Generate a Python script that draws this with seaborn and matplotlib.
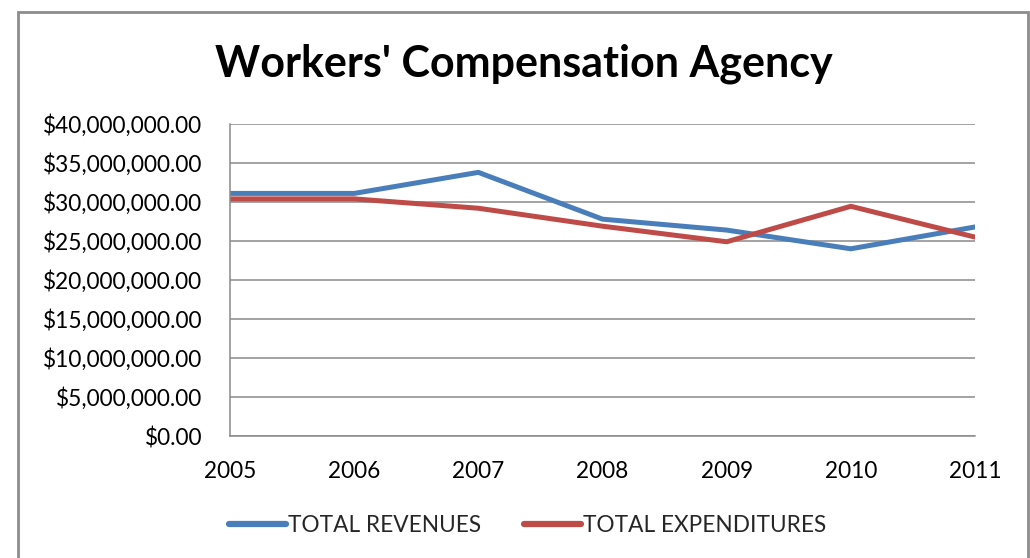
import matplotlib
matplotlib.use("Agg")
import matplotlib.pyplot as plt
import seaborn as sns
import pandas as pd
from matplotlib.ticker import FuncFormatter, MultipleLocator
from matplotlib.patches import Rectangle

years = [2005, 2006, 2007, 2008, 2009, 2010, 2011]
total_revenues = [31.1e6, 31.1e6, 33.8e6, 27.8e6, 26.4e6, 24.0e6, 26.8e6]
total_expenditures = [30.4e6, 30.4e6, 29.2e6, 26.9e6, 24.9e6, 29.45e6, 25.5e6]
series_names = ["TOTAL REVENUES", "TOTAL EXPENDITURES"]
colors = ["#4A7EBB", "#BE4B48"]

df = pd.DataFrame({
    "year": years * 2,
    "value": total_revenues + total_expenditures,
    "series": [series_names[0]] * len(years) + [series_names[1]] * len(years),
})

sns.set_theme(style="white")
plt.rcParams["font.family"] = ["Lato", "DejaVu Sans"]

fig = plt.figure(figsize=(10.3, 5.58), dpi=100)
ax = fig.add_axes([230 / 1030, 1 - 436 / 558, (975 - 230) / 1030, (436 - 124) / 558])

sns.lineplot(data=df, x="year", y="value", hue="series", palette=colors,
             linewidth=3.6, ax=ax, legend=False)

ax.set_xlim(2005, 2011)
ax.set_ylim(0, 40e6)
ax.yaxis.set_major_locator(MultipleLocator(5e6))
ax.set_xticks(years)
ax.yaxis.set_major_formatter(FuncFormatter(lambda v, p: "${:,.2f}".format(v)))
ax.set_xlabel("")
ax.set_ylabel("")

grid_c = "#8A8A8A"
ax.grid(axis="y", color=grid_c, linewidth=1.1)
ax.grid(axis="x", visible=False)
ax.set_axisbelow(True)
for s in ["top", "right"]:
    ax.spines[s].set_visible(False)
for s in ["left", "bottom"]:
    ax.spines[s].set_color(grid_c)
    ax.spines[s].set_linewidth(1.1)
ax.tick_params(axis="both", direction="out", length=6, width=1.1, color=grid_c,
               labelsize=16.3, labelcolor="black")
ax.tick_params(axis="y", pad=14)
ax.tick_params(axis="x", pad=12)

fig.text((210 + 838) / 2 / 1030, 1 - 64 / 558, "Workers' Compensation Agency",
         ha="center", va="center", fontsize=31, fontweight="bold", color="black")

handles = [plt.Line2D([], [], color=c, linewidth=4.5, solid_capstyle="round") for c in colors]
fig.legend(handles, series_names, loc="center", bbox_to_anchor=(528 / 1030, 1 - 525 / 558),
           ncol=2, frameon=False, fontsize=16.3, handlelength=2.5, handletextpad=0.1,
           columnspacing=1.9)

fig.patches.append(Rectangle((18 / 1030, -0.1), (1028 - 18) / 1030, 1.1 - 12 / 558,
                             transform=fig.transFigure, fill=False,
                             edgecolor="#8C8C8C", linewidth=2))

fig.savefig("out.png", dpi=100, facecolor="white")
